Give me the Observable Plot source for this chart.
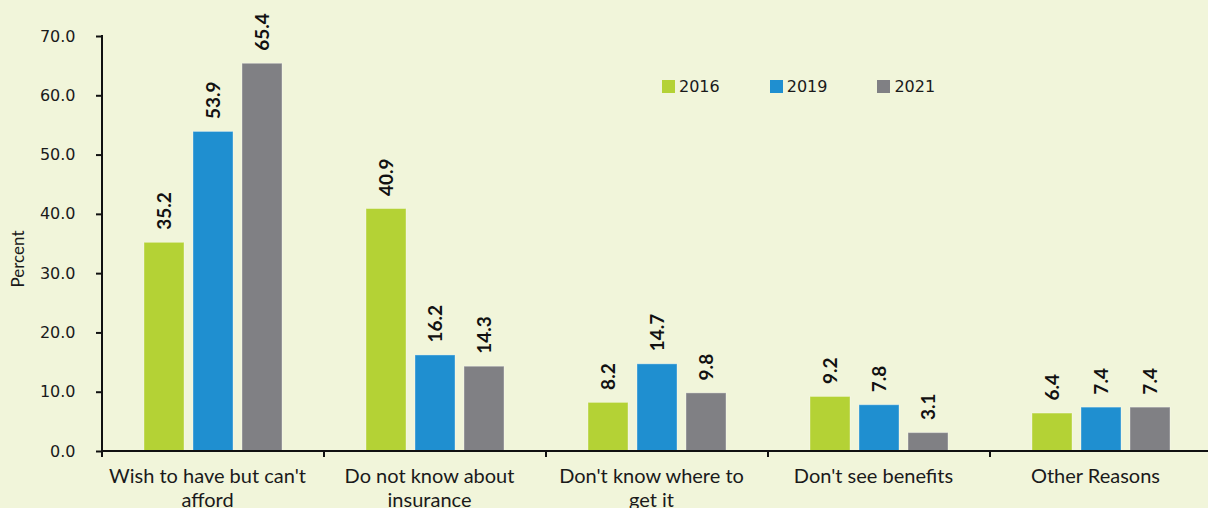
<!DOCTYPE html>
<html>
<head>
<meta charset="utf-8">
<script src="https://cdn.jsdelivr.net/npm/d3@7"></script>
<script src="https://cdn.jsdelivr.net/npm/@observablehq/plot@0.6"></script>
<style>
  html, body { margin: 0; padding: 0; background: #f1f5da; overflow: hidden; }
  #chart { position: relative; width: 1208px; height: 508px; }
  #legend { position: absolute; left: 662px; top: 77px; display: flex; font-family: "DejaVu Sans", sans-serif; font-size: 16px; color: #1a1a1a; }
  #legend .item { display: flex; align-items: center; margin-right: 50px; }
  #legend .sw { width: 13px; height: 13px; margin-right: 4px; }
</style>
</head>
<body>
<div id="chart"><div id="legend"></div></div>
<script>
const categories = [
  "Wish to have but can't afford",
  "Do not know about insurance",
  "Don't know where to get it",
  "Don't see benefits",
  "Other Reasons"
];
const categoryLabels = [
  "Wish to have but can't\nafford",
  "Do not know about\ninsurance",
  "Don't know where to\nget it",
  "Don't see benefits",
  "Other Reasons"
];
const years = ["2016", "2019", "2021"];
const values2016 = [35.2, 40.9, 8.2, 9.2, 6.4];
const values2019 = [53.9, 16.2, 14.7, 7.8, 7.4];
const values2021 = [65.4, 14.3, 9.8, 3.1, 7.4];
const yTicks = [0, 10, 20, 30, 40, 50, 60, 70];
const yTitle = "Percent";
const colors = ["#b4d235", "#1f8fd0", "#808084"];

const series = [values2016, values2019, values2021];
const data = [];
categories.forEach((c, i) => years.forEach((y, j) => data.push({category: c, year: y, value: series[j][i]})));
const labelOf = new Map(categories.map((c, i) => [c, categoryLabels[i]]));

const axisLines = Plot.frame({
  facet: "super",
  render: (index, scales, values, dimensions) => {
    const {fx, y} = scales;
    const g = d3.create("svg:g").attr("stroke", "#111").attr("stroke-width", 2);
    const y0 = y(0);
    const x0 = fx(categories[0]);
    g.append("line").attr("x1", x0).attr("x2", dimensions.width).attr("y1", y0).attr("y2", y0);
    g.append("line").attr("x1", x0).attr("x2", x0)
      .attr("y1", y(yTicks[yTicks.length - 1]) - 1).attr("y2", y0 + 6);
    for (const c of categories.slice(1)) {
      g.append("line").attr("x1", fx(c)).attr("x2", fx(c)).attr("y1", y0).attr("y2", y0 + 6);
    }
    return g.node();
  }
});

const chart = Plot.plot({
  width: 1208,
  height: 508,
  marginLeft: 102,
  marginRight: -4,
  marginTop: 36,
  marginBottom: 57,
  style: {background: "#f1f5da", color: "#1a1a1a", overflow: "visible"},
  fx: {domain: categories, padding: 0, label: null},
  x: {domain: years, paddingInner: 0.184, paddingOuter: 0.857, axis: null},
  y: {domain: [0, 70], label: null},
  color: {domain: years, range: colors},
  marks: [
    Plot.barY(data, {fx: "category", x: "year", y: "value", fill: "year", stroke: "#ffffff", strokeOpacity: 0.35, strokeWidth: 1}),
    Plot.text(data, {
      fx: "category", x: "year", y: "value", text: d => d.value.toFixed(1),
      rotate: -90, textAnchor: "start", lineAnchor: "middle", dy: -13,
      fontFamily: "Lato", fontWeight: "bold", fontSize: 19, fill: "#111"
    }),
    Plot.axisY({
      ticks: yTicks, tickFormat: d => d.toFixed(1), tickSize: 6, tickPadding: 21,
      fontSize: 16, fontFamily: "DejaVu Sans", strokeWidth: 2, stroke: "#111", label: null
    }),
    Plot.axisFx({
      anchor: "bottom", tickSize: 0, tickPadding: 14, fontSize: 20, fontFamily: "Lato",
      lineHeight: 1.2, dx: -6, tickFormat: c => labelOf.get(c), label: null
    }),
    Plot.text([yTitle], {
      facet: "super", frameAnchor: "left", text: d => d, rotate: -90,
      dx: -84, dy: 15, lineAnchor: "middle", textAnchor: "middle",
      fontFamily: "Lato", fontSize: 17, fill: "#1a1a1a"
    }),
    axisLines
  ]
});

document.getElementById("chart").prepend(chart);

const legend = d3.select("#legend");
years.forEach((y, j) => {
  const item = legend.append("div").attr("class", "item");
  item.append("div").attr("class", "sw").style("background", colors[j]);
  item.append("span").text(y);
});
</script>
</body>
</html>
